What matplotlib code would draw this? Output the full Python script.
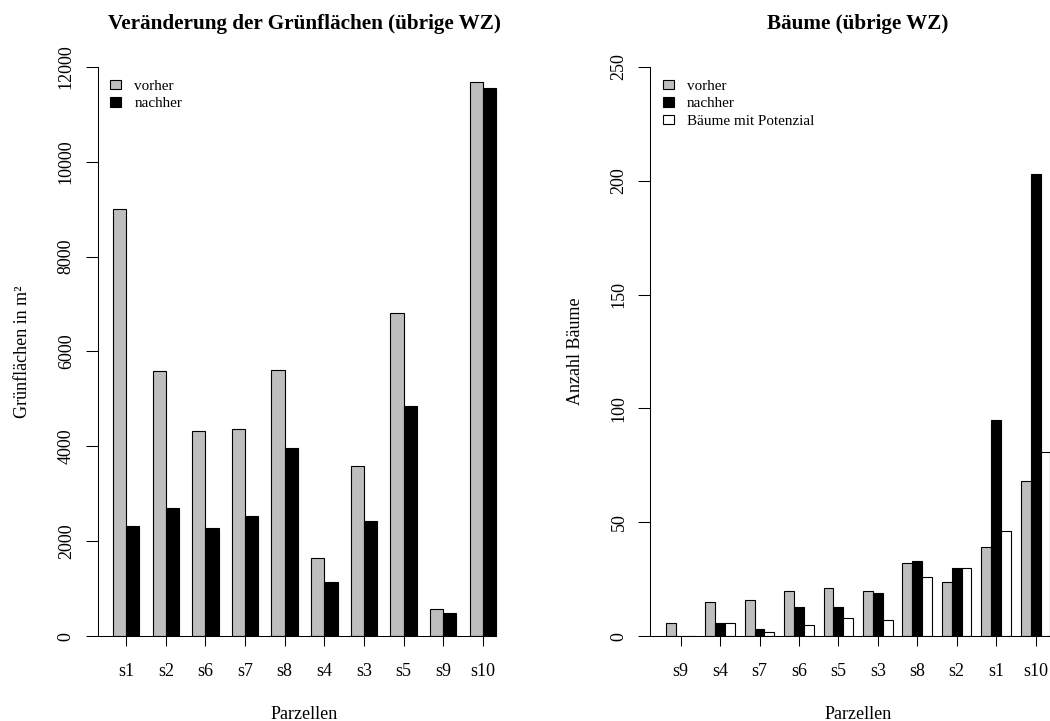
import numpy as np
import matplotlib.pyplot as plt
from matplotlib.patches import Patch

plt.rcParams['font.family'] = ['Liberation Serif', 'DejaVu Serif']

# Grünflächen (m²) je Parzelle
gruen_parzellen = ['s1', 's2', 's6', 's7', 's8', 's4', 's3', 's5', 's9', 's10']
gruen_vorher = [9010, 5585, 4325, 4370, 5605, 1645, 3595, 6805, 575, 11675]
gruen_nachher = [2330, 2700, 2290, 2540, 3975, 1140, 2435, 4845, 490, 11555]

# Bäume je Parzelle
baum_parzellen = ['s9', 's4', 's7', 's6', 's5', 's3', 's8', 's2', 's1', 's10']
baum_vorher = [6, 15, 16, 20, 21, 20, 32, 24, 39, 68]
baum_nachher = [0, 6, 3, 13, 13, 19, 33, 30, 95, 203]
baum_potenzial = [0, 6, 2, 5, 8, 7, 26, 30, 46, 81]

legend_labels = ['vorher', 'nachher', 'Bäume mit Potenzial']
farben = ['#bebebe', 'black', 'white']


def r_barplot(ax, names, series, labels, ymax, ystep, title, ylabel, ylab_x):
    n = len(series)
    groups = np.arange(len(names))
    # R barplot(beside=TRUE): bars width 1, gap of 1 between groups
    for j, vals in enumerate(series):
        left = 1 + groups * (n + 1) + j
        ax.bar(left, vals, width=1, align='edge', color=farben[j],
               edgecolor='black', linewidth=0.8)
    centers = 1 + groups * (n + 1) + n / 2
    lo, hi = 1, len(names) * (n + 1)
    ext = 0.04 * (hi - lo)
    ax.set_xlim(lo - ext, hi + ext)
    ax.set_ylim(0, ymax)

    ax.set_xticks(centers)
    ax.set_xticklabels(names)
    ax.set_yticks(np.arange(0, ymax + 1, ystep))
    ax.tick_params(axis='x', length=7.5, width=0.75, pad=12, labelsize=13)
    ax.tick_params(axis='y', length=8.4, width=0.75, pad=8, labelsize=13,
                   labelrotation=90)
    plt.setp(ax.get_yticklabels(), va='center')

    for s in ['top', 'right']:
        ax.spines[s].set_visible(False)
    ax.spines['left'].set_linewidth(0.75)
    ax.spines['bottom'].set_linewidth(0.75)
    ax.spines['bottom'].set_bounds(lo - ext, hi)

    ax.set_title(title, fontsize=15.2, fontweight='bold', pad=27)
    ax.set_xlabel('Parzellen', fontsize=13)
    ax.xaxis.set_label_coords(0.5, -0.122)
    ax.set_ylabel(ylabel, fontsize=13)
    ax.yaxis.set_label_coords(ylab_x, 0.5)

    handles = [Patch(facecolor=farben[j], edgecolor='black', linewidth=0.8)
               for j in range(n)]
    ax.legend(handles, labels[:n], loc='upper left', bbox_to_anchor=(0.03, 0.977),
              frameon=False, fontsize=10.9, handlelength=0.75, handleheight=0.6,
              handletextpad=0.85, labelspacing=0.28, borderpad=0, borderaxespad=0)


fig = plt.figure(figsize=(10.5, 7.21), dpi=100)
ax1 = fig.add_axes([0.093, 0.1175, 0.394, 0.79])
ax2 = fig.add_axes([0.6195, 0.1175, 0.3955, 0.79])

r_barplot(ax1, gruen_parzellen, [gruen_vorher, gruen_nachher], legend_labels,
          12000, 2000, 'Veränderung der Grünflächen (übrige WZ)',
          'Grünflächen in m²', -0.161)
r_barplot(ax2, baum_parzellen, [baum_vorher, baum_nachher, baum_potenzial],
          legend_labels, 250, 50, 'Bäume (übrige WZ)', 'Anzahl Bäume', -0.16)

fig.savefig('out.png', dpi=100)
